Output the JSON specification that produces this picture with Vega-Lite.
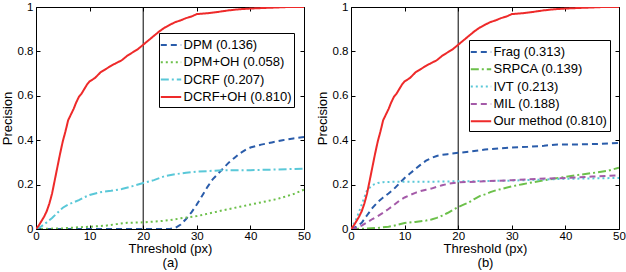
{
  "$schema": "https://vega.github.io/schema/vega-lite/v6.json",
  "padding": {"left": 0, "top": 0, "right": 0, "bottom": 0},
  "spacing": 4,
  "config": {
    "font": "Liberation Sans",
    "view": {"stroke": "black", "strokeWidth": 1},
    "axis": {
      "domain": false, "grid": false, "ticks": true, "tickSize": -4, "tickColor": "black",
      "labelColor": "black", "labelFontSize": 11.5, "labelFlush": false, "labelOverlap": false, "labelPadding": 7,
      "titleColor": "black", "titleFontSize": 13, "titleFontWeight": "normal", "titleLineHeight": 14
    },
    "axisX": {"labelPadding": 5},
    "legend": {
      "orient": "none", "title": null, "strokeColor": "black", "fillColor": "white", "padding": 2.5,
      "symbolType": "M-1.2,0H1.2", "symbolStrokeWidth": 2, "symbolSize": 289, "labelFontSize": 13,
      "labelColor": "black", "rowPadding": 0.3, "labelOffset": 3, "cornerRadius": 0
    }
  },
  "datasets": {
    "a": [
      {"m":"DPM (0.136)","x":0,"y":0},{"m":"DPM (0.136)","x":10,"y":0},{"m":"DPM (0.136)","x":20,"y":0},{"m":"DPM (0.136)","x":25,"y":0},{"m":"DPM (0.136)","x":26,"y":0.005},{"m":"DPM (0.136)","x":27,"y":0.02},{"m":"DPM (0.136)","x":28,"y":0.045},{"m":"DPM (0.136)","x":29,"y":0.075},{"m":"DPM (0.136)","x":30,"y":0.11},{"m":"DPM (0.136)","x":31,"y":0.15},{"m":"DPM (0.136)","x":32,"y":0.19},{"m":"DPM (0.136)","x":33,"y":0.225},{"m":"DPM (0.136)","x":34,"y":0.25},{"m":"DPM (0.136)","x":35,"y":0.275},{"m":"DPM (0.136)","x":36,"y":0.3},{"m":"DPM (0.136)","x":37,"y":0.32},{"m":"DPM (0.136)","x":38,"y":0.34},{"m":"DPM (0.136)","x":39,"y":0.355},{"m":"DPM (0.136)","x":40,"y":0.367},{"m":"DPM (0.136)","x":42,"y":0.38},{"m":"DPM (0.136)","x":44,"y":0.39},{"m":"DPM (0.136)","x":46,"y":0.4},{"m":"DPM (0.136)","x":48,"y":0.408},{"m":"DPM (0.136)","x":50,"y":0.414},
      {"m":"DPM+OH (0.058)","x":0,"y":0},{"m":"DPM+OH (0.058)","x":5,"y":0.003},{"m":"DPM+OH (0.058)","x":8,"y":0.008},{"m":"DPM+OH (0.058)","x":10,"y":0.01},{"m":"DPM+OH (0.058)","x":13,"y":0.015},{"m":"DPM+OH (0.058)","x":15,"y":0.022},{"m":"DPM+OH (0.058)","x":17,"y":0.028},{"m":"DPM+OH (0.058)","x":20,"y":0.03},{"m":"DPM+OH (0.058)","x":23,"y":0.035},{"m":"DPM+OH (0.058)","x":25,"y":0.04},{"m":"DPM+OH (0.058)","x":27,"y":0.048},{"m":"DPM+OH (0.058)","x":30,"y":0.058},{"m":"DPM+OH (0.058)","x":33,"y":0.074},{"m":"DPM+OH (0.058)","x":35,"y":0.085},{"m":"DPM+OH (0.058)","x":38,"y":0.1},{"m":"DPM+OH (0.058)","x":40,"y":0.11},{"m":"DPM+OH (0.058)","x":43,"y":0.125},{"m":"DPM+OH (0.058)","x":45,"y":0.135},{"m":"DPM+OH (0.058)","x":48,"y":0.157},{"m":"DPM+OH (0.058)","x":50,"y":0.177},
      {"m":"DCRF (0.207)","x":0,"y":0},{"m":"DCRF (0.207)","x":1,"y":0.012},{"m":"DCRF (0.207)","x":2,"y":0.03},{"m":"DCRF (0.207)","x":3,"y":0.05},{"m":"DCRF (0.207)","x":4,"y":0.073},{"m":"DCRF (0.207)","x":5,"y":0.096},{"m":"DCRF (0.207)","x":6,"y":0.11},{"m":"DCRF (0.207)","x":7,"y":0.12},{"m":"DCRF (0.207)","x":8,"y":0.13},{"m":"DCRF (0.207)","x":9,"y":0.143},{"m":"DCRF (0.207)","x":10,"y":0.153},{"m":"DCRF (0.207)","x":12,"y":0.166},{"m":"DCRF (0.207)","x":14,"y":0.172},{"m":"DCRF (0.207)","x":16,"y":0.18},{"m":"DCRF (0.207)","x":18,"y":0.193},{"m":"DCRF (0.207)","x":20,"y":0.207},{"m":"DCRF (0.207)","x":22,"y":0.22},{"m":"DCRF (0.207)","x":24,"y":0.238},{"m":"DCRF (0.207)","x":26,"y":0.247},{"m":"DCRF (0.207)","x":28,"y":0.253},{"m":"DCRF (0.207)","x":30,"y":0.258},{"m":"DCRF (0.207)","x":35,"y":0.265},{"m":"DCRF (0.207)","x":40,"y":0.265},{"m":"DCRF (0.207)","x":45,"y":0.268},{"m":"DCRF (0.207)","x":50,"y":0.272},
      {"m":"DCRF+OH (0.810)","x":0,"y":0},{"m":"DCRF+OH (0.810)","x":0.5,"y":0.015},{"m":"DCRF+OH (0.810)","x":1,"y":0.035},{"m":"DCRF+OH (0.810)","x":1.5,"y":0.055},{"m":"DCRF+OH (0.810)","x":2,"y":0.08},{"m":"DCRF+OH (0.810)","x":2.5,"y":0.115},{"m":"DCRF+OH (0.810)","x":3,"y":0.16},{"m":"DCRF+OH (0.810)","x":3.5,"y":0.22},{"m":"DCRF+OH (0.810)","x":4,"y":0.28},{"m":"DCRF+OH (0.810)","x":4.5,"y":0.34},{"m":"DCRF+OH (0.810)","x":5,"y":0.395},{"m":"DCRF+OH (0.810)","x":5.5,"y":0.44},{"m":"DCRF+OH (0.810)","x":6,"y":0.49},{"m":"DCRF+OH (0.810)","x":6.5,"y":0.515},{"m":"DCRF+OH (0.810)","x":7,"y":0.54},{"m":"DCRF+OH (0.810)","x":7.5,"y":0.57},{"m":"DCRF+OH (0.810)","x":8,"y":0.595},{"m":"DCRF+OH (0.810)","x":8.5,"y":0.61},{"m":"DCRF+OH (0.810)","x":9,"y":0.63},{"m":"DCRF+OH (0.810)","x":9.5,"y":0.65},{"m":"DCRF+OH (0.810)","x":10,"y":0.665},{"m":"DCRF+OH (0.810)","x":11,"y":0.68},{"m":"DCRF+OH (0.810)","x":12,"y":0.705},{"m":"DCRF+OH (0.810)","x":13,"y":0.72},{"m":"DCRF+OH (0.810)","x":14,"y":0.735},{"m":"DCRF+OH (0.810)","x":15,"y":0.748},{"m":"DCRF+OH (0.810)","x":16,"y":0.76},{"m":"DCRF+OH (0.810)","x":17,"y":0.78},{"m":"DCRF+OH (0.810)","x":18,"y":0.795},{"m":"DCRF+OH (0.810)","x":19,"y":0.81},{"m":"DCRF+OH (0.810)","x":20,"y":0.83},{"m":"DCRF+OH (0.810)","x":21,"y":0.85},{"m":"DCRF+OH (0.810)","x":22,"y":0.87},{"m":"DCRF+OH (0.810)","x":23,"y":0.89},{"m":"DCRF+OH (0.810)","x":24,"y":0.907},{"m":"DCRF+OH (0.810)","x":25,"y":0.92},{"m":"DCRF+OH (0.810)","x":26,"y":0.932},{"m":"DCRF+OH (0.810)","x":27,"y":0.94},{"m":"DCRF+OH (0.810)","x":28,"y":0.95},{"m":"DCRF+OH (0.810)","x":29,"y":0.957},{"m":"DCRF+OH (0.810)","x":30,"y":0.968},{"m":"DCRF+OH (0.810)","x":32,"y":0.972},{"m":"DCRF+OH (0.810)","x":34,"y":0.978},{"m":"DCRF+OH (0.810)","x":36,"y":0.985},{"m":"DCRF+OH (0.810)","x":38,"y":0.99},{"m":"DCRF+OH (0.810)","x":40,"y":0.993},{"m":"DCRF+OH (0.810)","x":42,"y":0.995},{"m":"DCRF+OH (0.810)","x":45,"y":0.998},{"m":"DCRF+OH (0.810)","x":47,"y":1},{"m":"DCRF+OH (0.810)","x":50,"y":1}
    ],
    "b": [
      {"m":"Frag (0.313)","x":0,"y":0},{"m":"Frag (0.313)","x":1,"y":0.01},{"m":"Frag (0.313)","x":2,"y":0.028},{"m":"Frag (0.313)","x":3,"y":0.062},{"m":"Frag (0.313)","x":4,"y":0.095},{"m":"Frag (0.313)","x":5,"y":0.122},{"m":"Frag (0.313)","x":6,"y":0.142},{"m":"Frag (0.313)","x":7,"y":0.16},{"m":"Frag (0.313)","x":8,"y":0.18},{"m":"Frag (0.313)","x":9,"y":0.205},{"m":"Frag (0.313)","x":10,"y":0.23},{"m":"Frag (0.313)","x":11,"y":0.25},{"m":"Frag (0.313)","x":12,"y":0.27},{"m":"Frag (0.313)","x":13,"y":0.29},{"m":"Frag (0.313)","x":14,"y":0.308},{"m":"Frag (0.313)","x":15,"y":0.32},{"m":"Frag (0.313)","x":16,"y":0.329},{"m":"Frag (0.313)","x":17,"y":0.334},{"m":"Frag (0.313)","x":18,"y":0.337},{"m":"Frag (0.313)","x":20,"y":0.343},{"m":"Frag (0.313)","x":22,"y":0.348},{"m":"Frag (0.313)","x":25,"y":0.358},{"m":"Frag (0.313)","x":28,"y":0.364},{"m":"Frag (0.313)","x":30,"y":0.367},{"m":"Frag (0.313)","x":33,"y":0.37},{"m":"Frag (0.313)","x":36,"y":0.375},{"m":"Frag (0.313)","x":38,"y":0.38},{"m":"Frag (0.313)","x":42,"y":0.381},{"m":"Frag (0.313)","x":46,"y":0.383},{"m":"Frag (0.313)","x":50,"y":0.388},
      {"m":"SRPCA (0.139)","x":0,"y":0},{"m":"SRPCA (0.139)","x":3,"y":0.002},{"m":"SRPCA (0.139)","x":5,"y":0.005},{"m":"SRPCA (0.139)","x":7,"y":0.01},{"m":"SRPCA (0.139)","x":8,"y":0.015},{"m":"SRPCA (0.139)","x":10,"y":0.027},{"m":"SRPCA (0.139)","x":12,"y":0.032},{"m":"SRPCA (0.139)","x":14,"y":0.038},{"m":"SRPCA (0.139)","x":15,"y":0.043},{"m":"SRPCA (0.139)","x":16,"y":0.05},{"m":"SRPCA (0.139)","x":17,"y":0.06},{"m":"SRPCA (0.139)","x":18,"y":0.072},{"m":"SRPCA (0.139)","x":19,"y":0.086},{"m":"SRPCA (0.139)","x":20,"y":0.099},{"m":"SRPCA (0.139)","x":21,"y":0.11},{"m":"SRPCA (0.139)","x":22,"y":0.12},{"m":"SRPCA (0.139)","x":23,"y":0.135},{"m":"SRPCA (0.139)","x":24,"y":0.148},{"m":"SRPCA (0.139)","x":25,"y":0.156},{"m":"SRPCA (0.139)","x":26,"y":0.166},{"m":"SRPCA (0.139)","x":27,"y":0.174},{"m":"SRPCA (0.139)","x":28,"y":0.18},{"m":"SRPCA (0.139)","x":30,"y":0.192},{"m":"SRPCA (0.139)","x":32,"y":0.202},{"m":"SRPCA (0.139)","x":35,"y":0.215},{"m":"SRPCA (0.139)","x":38,"y":0.227},{"m":"SRPCA (0.139)","x":40,"y":0.235},{"m":"SRPCA (0.139)","x":42,"y":0.242},{"m":"SRPCA (0.139)","x":45,"y":0.252},{"m":"SRPCA (0.139)","x":48,"y":0.263},{"m":"SRPCA (0.139)","x":50,"y":0.276},
      {"m":"IVT (0.213)","x":0,"y":0},{"m":"IVT (0.213)","x":1,"y":0.045},{"m":"IVT (0.213)","x":2,"y":0.11},{"m":"IVT (0.213)","x":3,"y":0.175},{"m":"IVT (0.213)","x":4,"y":0.198},{"m":"IVT (0.213)","x":5,"y":0.207},{"m":"IVT (0.213)","x":6,"y":0.211},{"m":"IVT (0.213)","x":8,"y":0.213},{"m":"IVT (0.213)","x":10,"y":0.213},{"m":"IVT (0.213)","x":15,"y":0.213},{"m":"IVT (0.213)","x":20,"y":0.215},{"m":"IVT (0.213)","x":25,"y":0.216},{"m":"IVT (0.213)","x":30,"y":0.218},{"m":"IVT (0.213)","x":35,"y":0.222},{"m":"IVT (0.213)","x":40,"y":0.226},{"m":"IVT (0.213)","x":45,"y":0.228},{"m":"IVT (0.213)","x":50,"y":0.23},
      {"m":"MIL (0.188)","x":0,"y":0},{"m":"MIL (0.188)","x":1,"y":0.005},{"m":"MIL (0.188)","x":2,"y":0.015},{"m":"MIL (0.188)","x":3,"y":0.03},{"m":"MIL (0.188)","x":4,"y":0.045},{"m":"MIL (0.188)","x":5,"y":0.058},{"m":"MIL (0.188)","x":6,"y":0.073},{"m":"MIL (0.188)","x":7,"y":0.09},{"m":"MIL (0.188)","x":8,"y":0.108},{"m":"MIL (0.188)","x":9,"y":0.127},{"m":"MIL (0.188)","x":10,"y":0.142},{"m":"MIL (0.188)","x":11,"y":0.153},{"m":"MIL (0.188)","x":12,"y":0.163},{"m":"MIL (0.188)","x":13,"y":0.171},{"m":"MIL (0.188)","x":14,"y":0.177},{"m":"MIL (0.188)","x":15,"y":0.182},{"m":"MIL (0.188)","x":16,"y":0.19},{"m":"MIL (0.188)","x":17,"y":0.197},{"m":"MIL (0.188)","x":18,"y":0.203},{"m":"MIL (0.188)","x":20,"y":0.21},{"m":"MIL (0.188)","x":22,"y":0.212},{"m":"MIL (0.188)","x":25,"y":0.215},{"m":"MIL (0.188)","x":30,"y":0.22},{"m":"MIL (0.188)","x":35,"y":0.226},{"m":"MIL (0.188)","x":40,"y":0.23},{"m":"MIL (0.188)","x":45,"y":0.236},{"m":"MIL (0.188)","x":50,"y":0.242},
      {"m":"Our method (0.810)","x":0,"y":0},{"m":"Our method (0.810)","x":0.5,"y":0.015},{"m":"Our method (0.810)","x":1,"y":0.035},{"m":"Our method (0.810)","x":1.5,"y":0.055},{"m":"Our method (0.810)","x":2,"y":0.08},{"m":"Our method (0.810)","x":2.5,"y":0.115},{"m":"Our method (0.810)","x":3,"y":0.16},{"m":"Our method (0.810)","x":3.5,"y":0.22},{"m":"Our method (0.810)","x":4,"y":0.28},{"m":"Our method (0.810)","x":4.5,"y":0.34},{"m":"Our method (0.810)","x":5,"y":0.395},{"m":"Our method (0.810)","x":5.5,"y":0.44},{"m":"Our method (0.810)","x":6,"y":0.49},{"m":"Our method (0.810)","x":6.5,"y":0.515},{"m":"Our method (0.810)","x":7,"y":0.54},{"m":"Our method (0.810)","x":7.5,"y":0.57},{"m":"Our method (0.810)","x":8,"y":0.595},{"m":"Our method (0.810)","x":8.5,"y":0.61},{"m":"Our method (0.810)","x":9,"y":0.63},{"m":"Our method (0.810)","x":9.5,"y":0.65},{"m":"Our method (0.810)","x":10,"y":0.665},{"m":"Our method (0.810)","x":11,"y":0.68},{"m":"Our method (0.810)","x":12,"y":0.705},{"m":"Our method (0.810)","x":13,"y":0.72},{"m":"Our method (0.810)","x":14,"y":0.735},{"m":"Our method (0.810)","x":15,"y":0.748},{"m":"Our method (0.810)","x":16,"y":0.76},{"m":"Our method (0.810)","x":17,"y":0.78},{"m":"Our method (0.810)","x":18,"y":0.795},{"m":"Our method (0.810)","x":19,"y":0.81},{"m":"Our method (0.810)","x":20,"y":0.83},{"m":"Our method (0.810)","x":21,"y":0.85},{"m":"Our method (0.810)","x":22,"y":0.87},{"m":"Our method (0.810)","x":23,"y":0.89},{"m":"Our method (0.810)","x":24,"y":0.907},{"m":"Our method (0.810)","x":25,"y":0.92},{"m":"Our method (0.810)","x":26,"y":0.932},{"m":"Our method (0.810)","x":27,"y":0.94},{"m":"Our method (0.810)","x":28,"y":0.95},{"m":"Our method (0.810)","x":29,"y":0.957},{"m":"Our method (0.810)","x":30,"y":0.968},{"m":"Our method (0.810)","x":32,"y":0.972},{"m":"Our method (0.810)","x":34,"y":0.978},{"m":"Our method (0.810)","x":36,"y":0.985},{"m":"Our method (0.810)","x":38,"y":0.99},{"m":"Our method (0.810)","x":40,"y":0.993},{"m":"Our method (0.810)","x":42,"y":0.995},{"m":"Our method (0.810)","x":45,"y":0.998},{"m":"Our method (0.810)","x":47,"y":1},{"m":"Our method (0.810)","x":50,"y":1}
    ]
  },
  "resolve": {"scale": {"color": "independent", "strokeDash": "independent"}, "legend": {"color": "independent", "strokeDash": "independent"}},
  "hconcat": [
    {
      "width": 268, "height": 222,
      "layer": [
        {
          "data": {"values": [{"x": 20}]},
          "mark": {"type": "rule", "color": "black", "strokeWidth": 1},
          "encoding": {
            "x": {"field": "x", "type": "quantitative", "scale": {"domain": [0, 50], "nice": false}, "axis": null}
          }
        },
        {
          "data": {"name": "a"},
          "mark": {"type": "line", "strokeWidth": 2, "clip": true},
          "encoding": {
            "x": {"field": "x", "type": "quantitative", "scale": {"domain": [0, 50], "nice": false}, "axis": {"orient": "bottom", "values": [0, 10, 20, 30, 40, 50], "title": ["Threshold (px)", "(a)"], "titlePadding": 1}},
            "y": {"field": "y", "type": "quantitative", "scale": {"domain": [0, 1], "nice": false}, "axis": {"orient": "left", "values": [0, 0.2, 0.4, 0.6, 0.8, 1], "format": "~g", "title": "Precision", "titlePadding": 3}},
            "color": {"field": "m", "type": "nominal", "scale": {"domain": ["DPM (0.136)", "DPM+OH (0.058)", "DCRF (0.207)", "DCRF+OH (0.810)"], "range": ["#2a5caa", "#6cc04a", "#5ac8d8", "#ee2a2a"]}, "legend": {"legendX": 123, "legendY": 26}},
            "strokeDash": {"field": "m", "type": "nominal", "scale": {"domain": ["DPM (0.136)", "DPM+OH (0.058)", "DCRF (0.207)", "DCRF+OH (0.810)"], "range": [[6, 4], [2, 3], [8, 3, 2, 3], [1, 0]]}, "legend": {"legendX": 123, "legendY": 26}}
          }
        },
        {
          "data": {"name": "a"},
          "mark": {"type": "point", "opacity": 0},
          "encoding": {
            "x": {"field": "x", "type": "quantitative", "scale": {"domain": [0, 50], "nice": false}, "axis": {"orient": "top", "values": [0, 10, 20, 30, 40, 50], "labels": false, "title": null}},
            "y": {"field": "y", "type": "quantitative", "scale": {"domain": [0, 1], "nice": false}, "axis": {"orient": "right", "values": [0, 0.2, 0.4, 0.6, 0.8, 1], "labels": false, "title": null}}
          }
        }
      ]
    },
    {
      "width": 268, "height": 222,
      "layer": [
        {
          "data": {"values": [{"x": 20}]},
          "mark": {"type": "rule", "color": "black", "strokeWidth": 1},
          "encoding": {
            "x": {"field": "x", "type": "quantitative", "scale": {"domain": [0, 50], "nice": false}, "axis": null}
          }
        },
        {
          "data": {"name": "b"},
          "mark": {"type": "line", "strokeWidth": 2, "clip": true},
          "encoding": {
            "x": {"field": "x", "type": "quantitative", "scale": {"domain": [0, 50], "nice": false}, "axis": {"orient": "bottom", "values": [0, 10, 20, 30, 40, 50], "title": ["Threshold (px)", "(b)"], "titlePadding": 1}},
            "y": {"field": "y", "type": "quantitative", "scale": {"domain": [0, 1], "nice": false}, "axis": {"orient": "left", "values": [0, 0.2, 0.4, 0.6, 0.8, 1], "format": "~g", "title": "Precision", "titlePadding": 3}},
            "color": {"field": "m", "type": "nominal", "scale": {"domain": ["Frag (0.313)", "SRPCA (0.139)", "IVT (0.213)", "MIL (0.188)", "Our method (0.810)"], "range": ["#2a5caa", "#6cc04a", "#5ac8d8", "#a45aa8", "#ee2a2a"]}, "legend": {"legendX": 118, "legendY": 33}},
            "strokeDash": {"field": "m", "type": "nominal", "scale": {"domain": ["Frag (0.313)", "SRPCA (0.139)", "IVT (0.213)", "MIL (0.188)", "Our method (0.810)"], "range": [[6, 4], [8, 3, 2, 3], [2, 3], [6, 4], [1, 0]]}, "legend": {"legendX": 118, "legendY": 33}}
          }
        },
        {
          "data": {"name": "b"},
          "mark": {"type": "point", "opacity": 0},
          "encoding": {
            "x": {"field": "x", "type": "quantitative", "scale": {"domain": [0, 50], "nice": false}, "axis": {"orient": "top", "values": [0, 10, 20, 30, 40, 50], "labels": false, "title": null}},
            "y": {"field": "y", "type": "quantitative", "scale": {"domain": [0, 1], "nice": false}, "axis": {"orient": "right", "values": [0, 0.2, 0.4, 0.6, 0.8, 1], "labels": false, "title": null}}
          }
        }
      ]
    }
  ]
}
